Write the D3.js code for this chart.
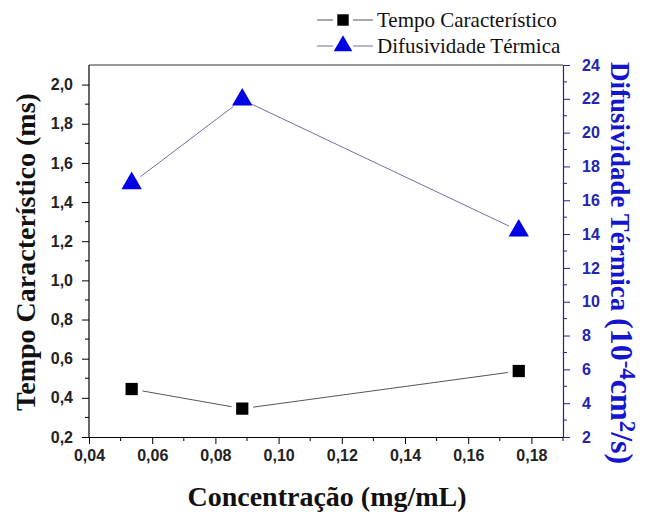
<!DOCTYPE html>
<html><head><meta charset="utf-8">
<script src="https://cdn.jsdelivr.net/npm/d3@7"></script>
<style>body{margin:0;background:#fff}</style>
</head><body>
<svg id="c" width="645" height="512"></svg>
<script>
const concentracao = [0.0535, 0.0885, 0.176];
const tempo = [0.445, 0.345, 0.537];
const difusividade = [17.0, 21.95, 14.2];
const xTicks = [0.04, 0.06, 0.08, 0.10, 0.12, 0.14, 0.16, 0.18];
const yLeftTicks = [0.2, 0.4, 0.6, 0.8, 1.0, 1.2, 1.4, 1.6, 1.8, 2.0];
const yRightTicks = [2, 4, 6, 8, 10, 12, 14, 16, 18, 20, 22, 24];

const svg = d3.select("#c");
const L = 89, R = 563, T = 65, B = 437;
const x = d3.scaleLinear().domain([0.04, 0.19]).range([L, R]);
const yL = d3.scaleLinear().domain([0.2, 2.1]).range([B, T]);
const yR = d3.scaleLinear().domain([2, 24]).range([B, T]);
const fmt = d => d3.format(".2f")(d).replace(".", ",");
const fmt1 = d => d3.format(".1f")(d).replace(".", ",");
const blueAx = "#22229a";
const sans = "'Liberation Sans', Arial, sans-serif";
const serif = "'Liberation Serif', 'Times New Roman', serif";

// frame top
svg.append("line").attr("x1", L).attr("x2", R).attr("y1", T).attr("y2", T).attr("stroke", "#333").attr("stroke-width", 1.2);

// X axis
const gx = svg.append("g").attr("transform", `translate(0,${B})`)
  .call(d3.axisBottom(x).tickValues(xTicks).tickFormat(fmt).tickSize(7).tickSizeOuter(0));
gx.append("g").selectAll("line").data(d3.range(0.05, 0.19, 0.02)).join("line")
  .attr("x1", d => x(d)).attr("x2", d => x(d)).attr("y1", 0).attr("y2", 4).attr("stroke", "#000");
gx.select(".domain").attr("stroke", "#000").attr("stroke-width", 1.2);
gx.selectAll(".tick text").attr("font-family", sans).attr("font-weight", "bold").attr("font-size", 16).attr("fill", "#222").attr("y", 10).attr("dy", "0.9em");

// Left axis
const gl = svg.append("g").attr("transform", `translate(${L},0)`)
  .call(d3.axisLeft(yL).tickValues(yLeftTicks).tickFormat(fmt1).tickSize(7).tickSizeOuter(0));
gl.append("g").selectAll("line").data(d3.range(0.3, 2.1, 0.2)).join("line")
  .attr("y1", d => yL(d)).attr("y2", d => yL(d)).attr("x1", 0).attr("x2", -4).attr("stroke", "#000");
gl.select(".domain").attr("stroke", "#000").attr("stroke-width", 1.2).attr("d", `M0,${B}V${T}`);
gl.selectAll(".tick text").attr("font-family", sans).attr("font-weight", "bold").attr("font-size", 16).attr("fill", "#222").attr("x", -16);

// Right axis
const gr = svg.append("g").attr("transform", `translate(${R},0)`)
  .call(d3.axisRight(yR).tickValues(yRightTicks).tickSize(7).tickSizeOuter(0));
gr.append("g").selectAll("line").data(d3.range(3, 24, 2)).join("line")
  .attr("y1", d => yR(d)).attr("y2", d => yR(d)).attr("x1", 0).attr("x2", 4).attr("stroke", blueAx);
gr.select(".domain").attr("stroke", blueAx).attr("stroke-width", 1.2);
gr.selectAll(".tick line").attr("stroke", blueAx);
gr.selectAll(".tick text").attr("font-family", sans).attr("font-weight", "bold").attr("font-size", 16).attr("fill", "#2424b0").attr("x", 19);

// lines with gaps at markers
function gapped(xs, ys, gap) {
  const segs = [];
  for (let i = 0; i < xs.length - 1; i++) {
    const x1 = xs[i], y1 = ys[i], x2 = xs[i+1], y2 = ys[i+1];
    const dx = x2 - x1, dy = y2 - y1, len = Math.hypot(dx, dy);
    const ux = dx / len, uy = dy / len;
    segs.push([x1 + ux*gap, y1 + uy*gap, x2 - ux*gap, y2 - uy*gap]);
  }
  return segs;
}
const px = concentracao.map(x);
const pyT = tempo.map(yL);
const pyD = difusividade.map(yR);
svg.append("g").selectAll("line").data(gapped(px, pyT, 11)).join("line")
  .attr("x1", d => d[0]).attr("y1", d => d[1]).attr("x2", d => d[2]).attr("y2", d => d[3])
  .attr("stroke", "#555").attr("stroke-width", 1);
svg.append("g").selectAll("line").data(gapped(px, pyD, 11)).join("line")
  .attr("x1", d => d[0]).attr("y1", d => d[1]).attr("x2", d => d[2]).attr("y2", d => d[3])
  .attr("stroke", "#6f6fa8").attr("stroke-width", 1);

// markers
const sq = d3.symbol().type(d3.symbolSquare).size(150);
const tri = d3.symbol().type(d3.symbolTriangle).size(180);
svg.append("g").selectAll("path").data(concentracao).join("path")
  .attr("d", sq).attr("transform", (d, i) => `translate(${x(d)},${yL(tempo[i])})`).attr("fill", "#000");
svg.append("g").selectAll("path").data(concentracao).join("path")
  .attr("d", tri).attr("transform", (d, i) => `translate(${x(d)},${yR(difusividade[i])})`).attr("fill", "#0000e6");

// legend
const lg = svg.append("g");
[["Tempo Característico", 20, "#555", d3.symbol().type(d3.symbolSquare).size(130), "#000"], ["Difusividade Térmica", 46, "#6f6fa8", d3.symbol().type(d3.symbolTriangle).size(150), "#0000e6"]].forEach(([t, cy, lc, sym, fc]) => {
  lg.append("line").attr("x1", 317).attr("x2", 373).attr("y1", cy).attr("y2", cy).attr("stroke", lc).attr("stroke-width", 1.2);
  lg.append("rect").attr("x", 333).attr("y", cy - 9).attr("width", 20).attr("height", 18).attr("fill", "#fff");
  lg.append("path").attr("d", sym).attr("transform", `translate(343,${cy})`).attr("fill", fc);
  lg.append("text").attr("x", 377).attr("y", cy + 7).attr("font-family", serif).attr("font-size", 21).attr("fill", "#111").text(t);
});

// axis titles
svg.append("text").attr("transform", `translate(35,${252}) rotate(-90)`).attr("text-anchor", "middle")
  .attr("font-family", serif).attr("font-weight", "bold").attr("font-size", 28).attr("fill", "#111")
  .text("Tempo Característico (ms)");
svg.append("text").attr("x", 327).attr("y", 506).attr("text-anchor", "middle")
  .attr("font-family", serif).attr("font-weight", "bold").attr("font-size", 28).attr("fill", "#111")
  .text("Concentração (mg/mL)");
const rt = svg.append("text").attr("transform", `translate(611,62) rotate(90)`).attr("text-anchor", "start")
  .attr("font-family", serif).attr("font-weight", "bold").attr("font-size", 27).attr("fill", "#1515d0");
rt.append("tspan").text("Difusividade Térmica ");
rt.append("tspan").attr("font-size", 32).text("(10");
rt.append("tspan").attr("dy", -9).attr("font-size", 23).text("-4");
rt.append("tspan").attr("dy", 9).attr("font-size", 32).text("cm");
rt.append("tspan").attr("dy", -9).attr("font-size", 23).text("2");
rt.append("tspan").attr("dy", 9).attr("font-size", 32).text("/s)");
</script>
</body></html>
